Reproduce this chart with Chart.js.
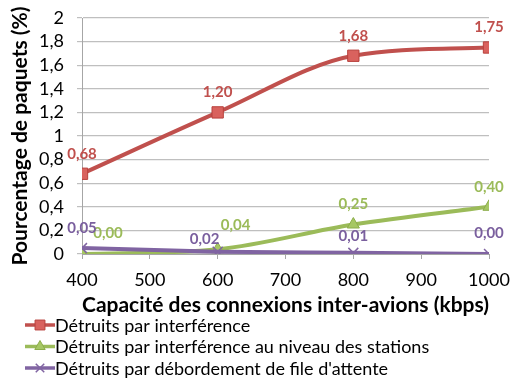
<!DOCTYPE html>
<html>
<head>
<meta charset="utf-8">
<script src="https://cdn.jsdelivr.net/npm/chart.js@4/dist/chart.umd.min.js"></script>
<style>
  html, body { margin: 0; padding: 0; background: #ffffff; }
  #graphe { display: block; }
</style>
</head>
<body>
<canvas id="graphe" width="511" height="378"></canvas>
<script>
// Capacité des liens (kbps)
const capacites = [400, 600, 800, 1000];

// Pourcentage de paquets détruits, par cause
const detruitsInterference = [0.68, 1.20, 1.68, 1.75];
const detruitsStations = [0.00, 0.04, 0.25, 0.40];
const detruitsFile = [0.05, 0.02, 0.01, 0.00];

const nomsSeries = [
    'Détruits par interférence',
    'Détruits par interférence au niveau des stations',
    "Détruits par débordement de file d'attente"
];

const couleurs = {
    rouge: '#C0504D',
    vert: '#9BBB59',
    violet: '#8064A2'
};

const police = "Lato, 'Open Sans', sans-serif";

// décalages des étiquettes de valeur (en px, par rapport au point)
const decalages = [
    [[0, -20], [0, -20], [0, -20], [0, -20]],
    [[26, -21], [18, -24], [0, -20], [0, -20]],
    [[0, -20], [-13, -12], [0, -17], [0, -21]]
];

function virgule(v, dec) {
    return v.toFixed(dec).replace('.', ',');
}

function points(valeurs) {
    return capacites.map((x, i) => ({ x: x, y: valeurs[i] }));
}

// étiquettes de valeur au-dessus des points
const etiquettesValeurs = {
    id: 'etiquettesValeurs',
    afterDatasetsDraw(chart) {
        const ctx = chart.ctx;
        ctx.save();
        ctx.font = 'bold 15px ' + police;
        ctx.textAlign = 'center';
        ctx.textBaseline = 'middle';
        chart.data.datasets.forEach((ds, i) => {
            const meta = chart.getDatasetMeta(i);
            ctx.fillStyle = ds.couleurEtiquette;
            meta.data.forEach((pt, j) => {
                const d = decalages[i][j];
                ctx.fillText(virgule(ds.data[j].y, 2), pt.x + d[0], pt.y + d[1]);
            });
        });
        ctx.restore();
    }
};

// légende verticale façon tableur (trait + marqueur)
const legendeVerticale = {
    id: 'legendeVerticale',
    afterDraw(chart) {
        const ctx = chart.ctx;
        const x0 = 25, x1 = 55, y0 = 325, pas = 21.5;
        ctx.save();
        chart.data.datasets.forEach((ds, i) => {
            const y = y0 + i * pas;
            ctx.strokeStyle = ds.borderColor;
            ctx.lineWidth = 3.5;
            ctx.beginPath();
            ctx.moveTo(x0, y);
            ctx.lineTo(x1, y);
            ctx.stroke();
            ctx.fillStyle = ds.pointBackgroundColor;
            ctx.strokeStyle = ds.pointBorderColor;
            ctx.lineWidth = ds.pointBorderWidth;
            Chart.helpers.drawPoint(ctx, {
                pointStyle: ds.pointStyle,
                radius: ds.pointRadius - 1,
                borderWidth: ds.pointBorderWidth
            }, (x0 + x1) / 2, y);
            ctx.fillStyle = '#000000';
            ctx.font = '18px ' + police;
            ctx.textAlign = 'left';
            ctx.textBaseline = 'middle';
            ctx.fillText(nomsSeries[i], x1, y + 1);
        });
        ctx.restore();
    }
};

const ctx = document.getElementById('graphe').getContext('2d');
new Chart(ctx, {
    type: 'line',
    data: {
        datasets: [{
            label: nomsSeries[0],
            data: points(detruitsInterference),
            borderColor: couleurs.rouge,
            backgroundColor: '#D9625E',
            pointBackgroundColor: '#D9625E',
            pointBorderColor: '#B8403C',
            pointStyle: 'rect',
            pointRadius: 8,
            pointBorderWidth: 1,
            borderWidth: 4,
            couleurEtiquette: '#C0504D',
            order: 2
        }, {
            label: nomsSeries[1],
            data: points(detruitsStations),
            borderColor: couleurs.vert,
            backgroundColor: '#A6C764',
            pointBackgroundColor: '#A6C764',
            pointBorderColor: '#8CAD4A',
            pointStyle: 'triangle',
            pointRadius: 7,
            pointBorderWidth: 1,
            borderWidth: 4,
            couleurEtiquette: '#9BBB59',
            order: 1
        }, {
            label: nomsSeries[2],
            data: points(detruitsFile),
            borderColor: couleurs.violet,
            backgroundColor: couleurs.violet,
            pointBackgroundColor: couleurs.violet,
            pointBorderColor: couleurs.violet,
            pointStyle: 'crossRot',
            pointRadius: 7,
            pointBorderWidth: 1.5,
            borderWidth: 4,
            couleurEtiquette: '#7A5F9E',
            order: 0
        }]
    },
    options: {
        responsive: false,
        animation: false,
        cubicInterpolationMode: 'monotone',
        layout: {
            padding: { top: 18, right: 0, bottom: 60, left: 0 }
        },
        plugins: {
            legend: { display: false },
            tooltip: { enabled: false }
        },
        scales: {
            x: {
                type: 'linear',
                min: 400,
                max: 1000,
                ticks: {
                    stepSize: 100,
                    autoSkip: false,
                    color: '#000000',
                    font: { size: 18, family: police },
                    padding: 10,
                    callback: v => String(v)
                },
                grid: {
                    drawOnChartArea: false,
                    drawTicks: true,
                    tickLength: 5,
                    color: '#A6A6A6'
                },
                border: { color: '#A6A6A6', width: 1 },
                title: {
                    display: true,
                    text: 'Capacité des connexions inter-avions (kbps)',
                    color: '#000000',
                    font: { size: 21, weight: 'bold', family: police },
                    padding: { top: 0, bottom: 0 }
                },
                afterFit(scale) {
                    scale.height = 64;
                    scale.paddingRight = 22;
                }
            },
            y: {
                min: 0,
                max: 2,
                ticks: {
                    stepSize: 0.2,
                    autoSkip: false,
                    color: '#000000',
                    font: { size: 18, family: police },
                    padding: 13,
                    callback: v => {
                        const r = Math.round(v * 10) / 10;
                        return Number.isInteger(r) ? String(r) : virgule(r, 1);
                    }
                },
                grid: {
                    color: '#BFBFBF',
                    lineWidth: 1.2,
                    tickLength: 5
                },
                border: { color: '#A6A6A6', width: 1 },
                title: {
                    display: true,
                    text: 'Pourcentage de paquets (%)',
                    color: '#000000',
                    font: { size: 21, weight: 'bold', family: police },
                    padding: { top: 8, bottom: 0 }
                },
                afterFit(scale) {
                    scale.width = 82;
                    scale.paddingTop = 0;
                    scale.paddingBottom = 0;
                }
            }
        }
    },
    plugins: [etiquettesValeurs, legendeVerticale]
});
</script>
</body>
</html>
